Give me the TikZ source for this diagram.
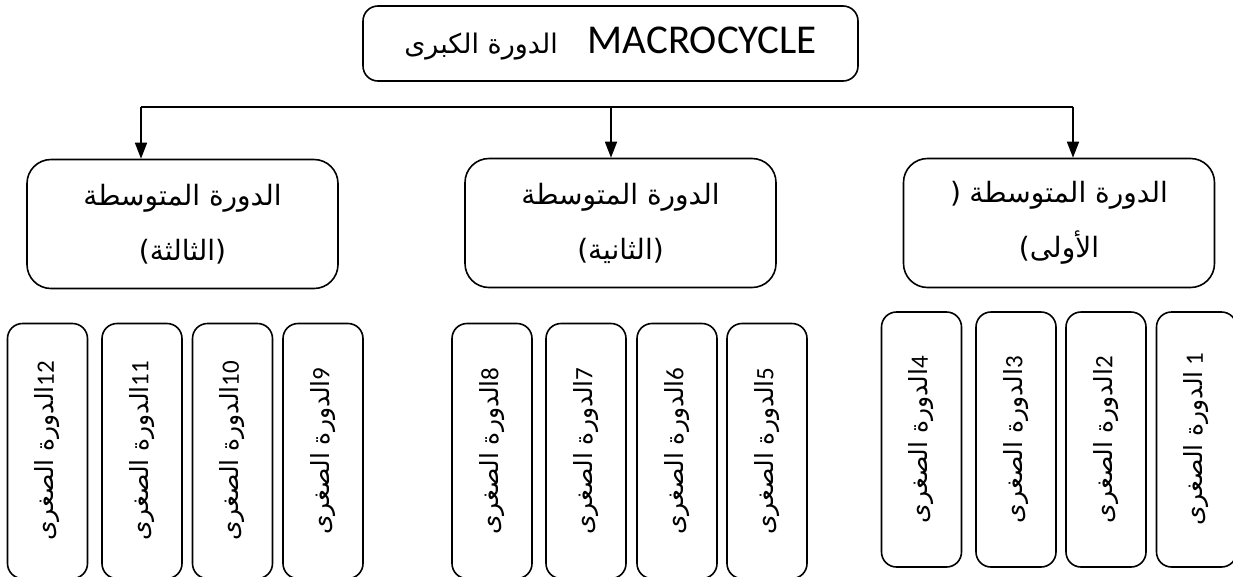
\documentclass[tikz,border=0pt]{standalone}
\usepackage{fontspec}
\usepackage{graphicx}
\setmainfont{Carlito}
\newfontfamily\arabicfont[Script=Arabic]{DejaVu Sans}
\newfontfamily\plainsans{DejaVu Sans}
\TeXXeTstate=1
\usetikzlibrary{arrows.meta}
\newcommand{\ar}[1]{{\arabicfont\beginR #1\endR}}
\newcommand{\lp}{{\plainsans(}}
\newcommand{\rp}{{\plainsans)}}
\newcommand{\minor}[1]{\rotatebox{90}{\fontsize{25}{30}\selectfont\ar{الدورة الصغرى}#1}}
\begin{document}
\begin{tikzpicture}[x=1pt,y=-1pt,
  line width=1.6pt,
  topbox/.style={draw, rounded corners=15pt, minimum width=495pt, minimum height=75pt, inner sep=0pt},
  midbox/.style={draw, rounded corners=24pt, minimum width=311pt, minimum height=129pt, inner sep=0pt, align=center, font=\fontsize{28}{55}\selectfont},
  minbox/.style={draw, rounded corners=15pt, minimum width=80pt, minimum height=255pt, inner sep=0pt},
  conn/.style={-{Triangle[length=16pt,width=12pt]}}]
\useasboundingbox (0,0) rectangle (1233,576);
\clip (0,0) rectangle (1233,576);

\node[topbox] (top) at (610.5,43.5) {\fontsize{27}{36}\selectfont\ar{الدورة الكبرى}\hspace{30pt}{\fontsize{41}{46}\selectfont MACROCYCLE}};

\node[midbox] (m3) at (182.5,224) {\ar{الدورة المتوسطة}\\\lp\ar{الثالثة}\rp};
\node[midbox] (m2) at (620.5,223) {\ar{الدورة المتوسطة}\\\lp\ar{الثانية}\rp};
\node[midbox] (m1) at (1059,223) {\rp\hspace{0.3em}\ar{الدورة المتوسطة}\\\lp\ar{الأولى}};

\coordinate (jl) at (141,107);
\coordinate (jm) at (611,107);
\coordinate (jr) at (1073,107);
\draw (jl) -- (jr);
\draw[conn] (jl) -- (jl |- m3.north);
\draw[conn] (jm) -- (jm |- m2.north);
\draw[conn] (jr) -- (jr |- m1.north);

\node[minbox] (s12) at (47.5,451) {\minor{12}};
\node[minbox] (s11) at (142,451) {\minor{11}};
\node[minbox] (s10) at (232.5,451) {\minor{10}};
\node[minbox] (s9) at (323,451) {\minor{9}};
\node[minbox] (s8) at (492,451) {\minor{8}};
\node[minbox] (s7) at (586,451) {\minor{7}};
\node[minbox] (s6) at (677,451) {\minor{6}};
\node[minbox] (s5) at (767,451) {\minor{5}};
\node[minbox] (s4) at (921.5,439.5) {\minor{4}};
\node[minbox] (s3) at (1016,439.5) {\minor{3}};
\node[minbox] (s2) at (1106,439.5) {\minor{2}};
\node[minbox] (s1) at (1196.5,439.5) {\minor{ 1}};
\end{tikzpicture}
\end{document}
